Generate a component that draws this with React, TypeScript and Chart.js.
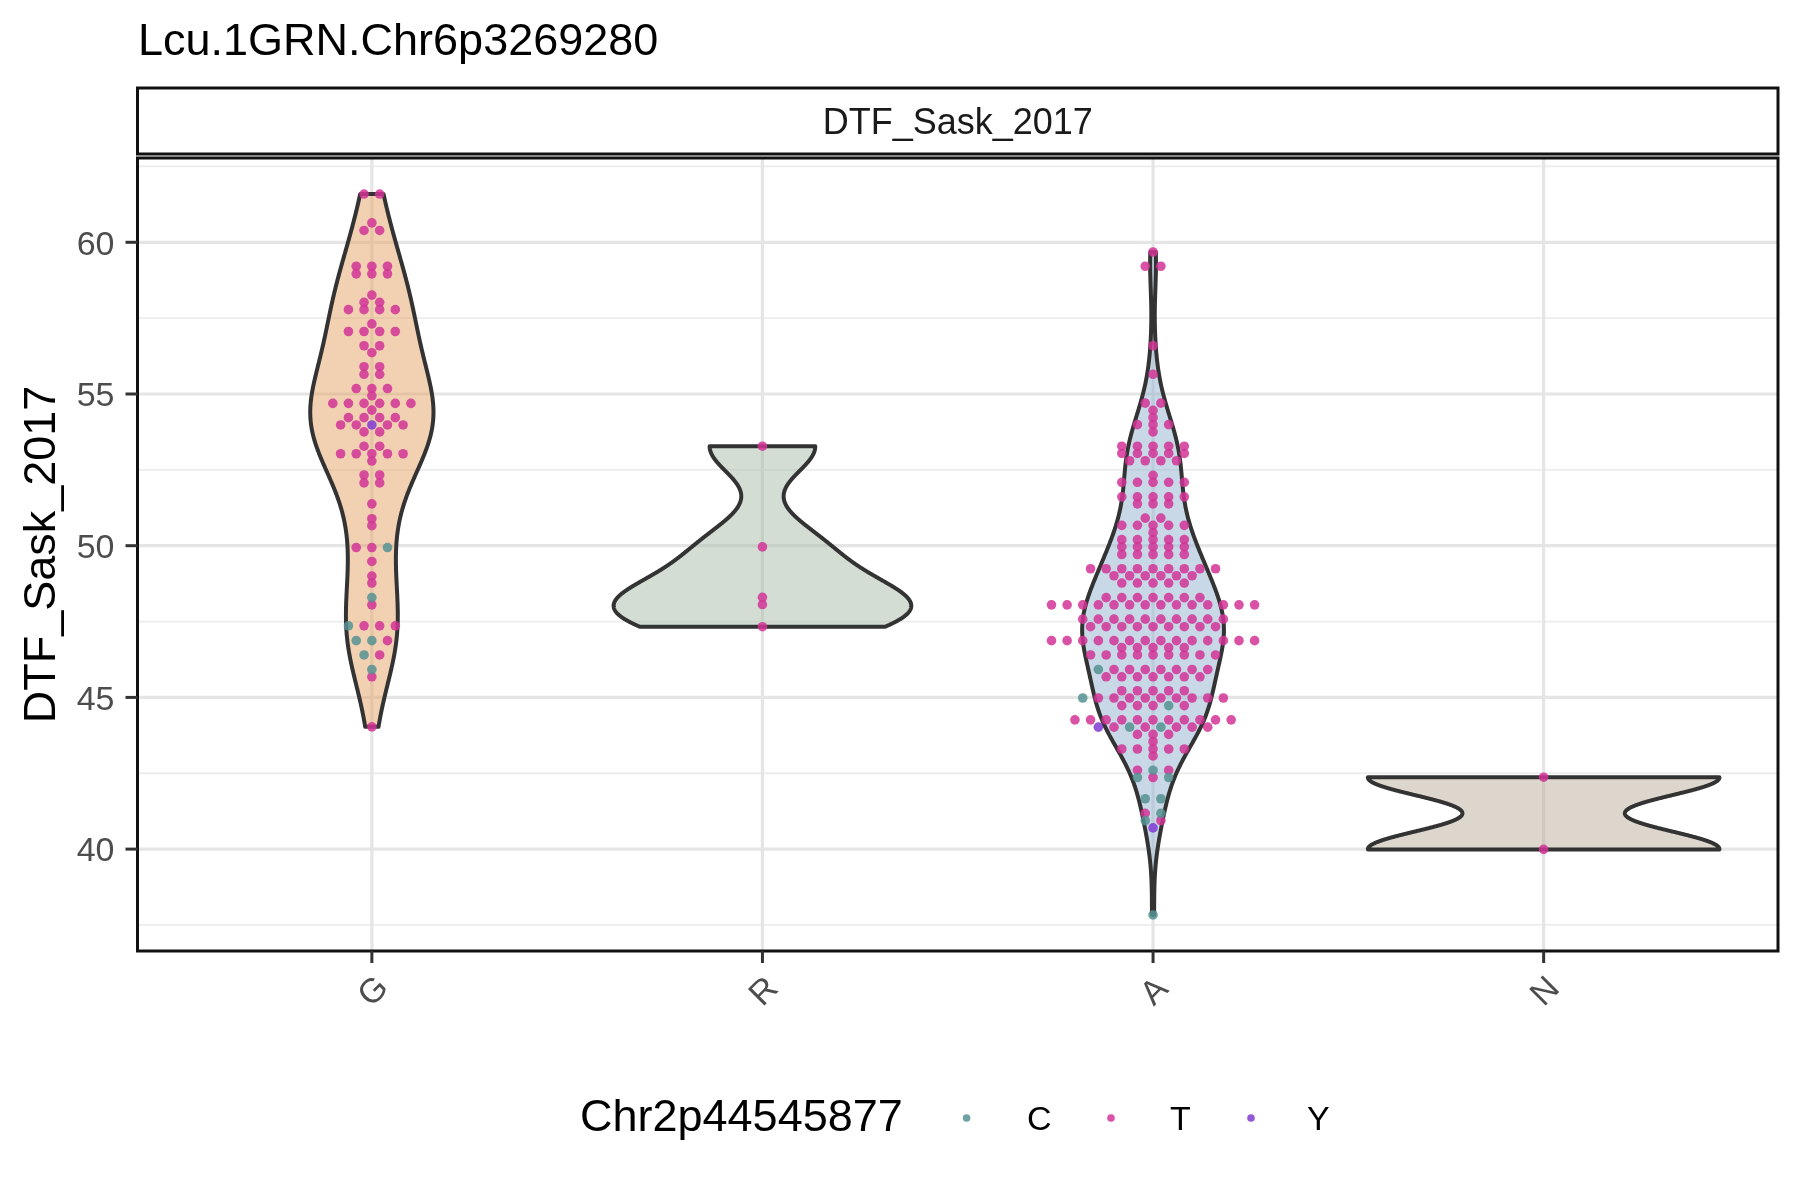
import { useEffect, useRef } from "react";
import { Chart, registerables } from "chart.js";

Chart.register(...registerables);

const FONT = '"Liberation Sans", Arial, "DejaVu Sans", sans-serif';

const TITLE = "Lcu.1GRN.Chr6p3269280";
const FACET = "DTF_Sask_2017";
const Y_TITLE = "DTF_Sask_2017";
const LEGEND_TITLE = "Chr2p44545877";

const CATEGORIES = ["G", "R", "A", "N"];
const GENOTYPES = ["C", "T", "Y"];
const Y_TICKS = [40, 45, 50, 55, 60];

// each level is one DTF value, the string says which genotype each dot at that value has
const G_LEVELS = [61.59, 60.64, 60.39, 59.21, 58.96, 58.26, 58.02, 57.78, 57.31, 57.06, 56.59, 56.36, 55.9, 55.65, 55.18, 54.94, 54.69, 54.47, 54.22, 53.98, 53.75, 53.28, 53.03, 52.79, 52.33, 52.07, 51.38, 50.89, 50.66, 49.94, 49.48, 49.0, 48.77, 48.29, 48.05, 47.36, 46.87, 46.4, 45.92, 45.68, 44.03];
const G_GENO = ["TT", "T", "TT", "TTT", "TTT", "T", "TT", "TTTT", "T", "TTTT", "TT", "T", "TT", "TT", "TTT", "T", "TTTTTT", "T", "TTTT", "TTYTT", "TT", "TT", "TTTTT", "T", "TT", "TT", "T", "T", "T", "TTC", "T", "T", "T", "C", "T", "CTTT", "CCT", "CT", "C", "T", "T"];

const R_LEVELS = [53.28, 49.96, 48.3, 48.06, 47.33];
const R_GENO = ["T", "T", "T", "T", "T"];

const A_LEVELS = [59.68, 59.21, 56.59, 55.65, 54.7, 54.46, 54.22, 53.99, 53.75, 53.28, 53.04, 52.8, 52.32, 52.09, 51.61, 51.38, 50.91, 50.67, 50.43, 50.2, 49.96, 49.71, 49.24, 49.01, 48.77, 48.29, 48.05, 47.58, 47.33, 46.87, 46.64, 46.4, 45.92, 45.68, 45.22, 44.98, 44.73, 44.26, 44.02, 43.78, 43.54, 43.3, 43.07, 42.6, 42.36, 41.66, 41.18, 40.94, 40.7, 37.83];
const A_GENO = ["T", "TT", "T", "T", "TT", "T", "T", "TTT", "T", "TTTTT", "TTTTT", "TTTT", "T", "TTTTT", "TTTTT", "TTT", "TT", "TTTTT", "T", "TTTTT", "TTTTT", "TTTTT", "T".repeat(9), "T".repeat(6), "T".repeat(5), "T".repeat(7), "T".repeat(14), "T".repeat(10), "T".repeat(9), "T".repeat(14), "T".repeat(5), "T".repeat(9), "CTTTTTTT", "T".repeat(7), "T".repeat(5), "CTTTTTTTTT", "TTTCT", "T".repeat(11), "YTCTCTTT", "TTT", "T", "TTTTT", "T", "TCT", "CTC", "CC", "TC", "CT", "Y", "C"];

const N_LEVELS = [42.37, 39.99];
const N_GENO = ["T", "T"];

const GROUPS = [
  { levels: G_LEVELS, geno: G_GENO },
  { levels: R_LEVELS, geno: R_GENO },
  { levels: A_LEVELS, geno: A_GENO },
  { levels: N_LEVELS, geno: N_GENO },
];

const GENO_COLORS: Record<string, string> = {
  C: "rgba(86,146,146,0.85)",
  T: "rgba(210,52,150,0.85)",
  Y: "rgba(128,58,212,0.85)",
};
const VIOLIN_FILLS = ["rgba(229,163,103,0.5)", "rgba(167,187,169,0.5)", "rgba(145,177,205,0.5)", "rgba(187,173,153,0.5)"];

const DOT_STEP = 0.04; // horizontal spacing between dots of one row, in category units
const VIOLIN_WIDTH = 0.9;

function groupValues(g: { levels: number[]; geno: string[] }) {
  const out: number[] = [];
  g.levels.forEach((v, i) => {
    for (let k = 0; k < g.geno[i].length; k++) out.push(v);
  });
  return out;
}

function quantile(sorted: number[], p: number) {
  const h = (sorted.length - 1) * p;
  const lo = Math.floor(h);
  const hi = Math.ceil(h);
  return sorted[lo] + (h - lo) * (sorted[hi] - sorted[lo]);
}

// gaussian kde with R's bw.nrd0, trimmed to the data range
function density(values: number[]) {
  const n = values.length;
  const sorted = [...values].sort((a, b) => a - b);
  const mean = values.reduce((s, v) => s + v, 0) / n;
  const sd = Math.sqrt(values.reduce((s, v) => s + (v - mean) ** 2, 0) / (n - 1));
  const iqr = quantile(sorted, 0.75) - quantile(sorted, 0.25);
  let lo = Math.min(sd, iqr / 1.34);
  if (!lo) lo = sd || Math.abs(sorted[0]) || 1;
  const bw = 0.9 * lo * Math.pow(n, -0.2);
  const min = sorted[0];
  const max = sorted[n - 1];
  const ys: number[] = [];
  const ds: number[] = [];
  for (let i = 0; i < 512; i++) {
    const y = min + ((max - min) * i) / 511;
    let s = 0;
    for (const v of values) s += Math.exp(-0.5 * ((y - v) / bw) ** 2);
    ys.push(y);
    ds.push(s / (n * bw * Math.sqrt(2 * Math.PI)));
  }
  return { ys, ds };
}

const ALL_VALUES = GROUPS.flatMap(groupValues);
const DATA_MIN = Math.min(...ALL_VALUES);
const DATA_MAX = Math.max(...ALL_VALUES);
const Y_MIN = DATA_MIN - 0.05 * (DATA_MAX - DATA_MIN);
const Y_MAX = DATA_MAX + 0.05 * (DATA_MAX - DATA_MIN);

function buildDatasets() {
  const pts: Record<string, { x: number; y: number }[]> = { C: [], T: [], Y: [] };
  GROUPS.forEach((g, ci) => {
    g.levels.forEach((v, i) => {
      const row = g.geno[i];
      const m = row.length;
      for (let j = 0; j < m; j++) {
        pts[row[j]].push({ x: ci + (j - (m - 1) / 2) * DOT_STEP, y: v });
      }
    });
  });
  return GENOTYPES.map((k) => ({
    label: k,
    data: pts[k],
    backgroundColor: GENO_COLORS[k],
    borderWidth: 0,
    pointRadius: 4.8,
    pointHoverRadius: 4.8,
  }));
}

const panelPlugin = {
  id: "ggpanel",
  beforeDraw(chart: any) {
    const ctx = chart.ctx;
    ctx.save();
    ctx.fillStyle = "#ffffff";
    ctx.fillRect(0, 0, chart.width, chart.height);
    ctx.restore();
  },
  beforeDatasetsDraw(chart: any) {
    const { ctx, chartArea: a } = chart;
    const xs = chart.scales.x;
    const ys = chart.scales.y;
    ctx.save();
    ctx.beginPath();
    ctx.rect(a.left, a.top, a.right - a.left, a.bottom - a.top);
    ctx.clip();

    // minor grid
    const step = Y_TICKS[1] - Y_TICKS[0];
    const minor = Y_TICKS.map((t) => t - step / 2).concat([Y_TICKS[Y_TICKS.length - 1] + step / 2]);
    ctx.strokeStyle = "#ececec";
    ctx.lineWidth = 1.8;
    minor.forEach((v) => {
      if (v < Y_MIN || v > Y_MAX) return;
      const y = ys.getPixelForValue(v);
      ctx.beginPath();
      ctx.moveTo(a.left, y);
      ctx.lineTo(a.right, y);
      ctx.stroke();
    });
    // major grid
    ctx.strokeStyle = "#e5e5e5";
    ctx.lineWidth = 3.2;
    Y_TICKS.forEach((v) => {
      const y = ys.getPixelForValue(v);
      ctx.beginPath();
      ctx.moveTo(a.left, y);
      ctx.lineTo(a.right, y);
      ctx.stroke();
    });
    CATEGORIES.forEach((_, i) => {
      const x = xs.getPixelForValue(i);
      ctx.beginPath();
      ctx.moveTo(x, a.top);
      ctx.lineTo(x, a.bottom);
      ctx.stroke();
    });

    // violins, area-scaled like ggplot
    const dens = GROUPS.map((g) => density(groupValues(g)));
    const maxD = Math.max(...dens.map((d) => Math.max(...d.ds)));
    dens.forEach((d, ci) => {
      ctx.beginPath();
      for (let i = 0; i < d.ys.length; i++) {
        const w = ((VIOLIN_WIDTH / 2) * d.ds[i]) / maxD;
        const px = xs.getPixelForValue(ci + w);
        const py = ys.getPixelForValue(d.ys[i]);
        if (i === 0) ctx.moveTo(px, py);
        else ctx.lineTo(px, py);
      }
      for (let i = d.ys.length - 1; i >= 0; i--) {
        const w = ((VIOLIN_WIDTH / 2) * d.ds[i]) / maxD;
        ctx.lineTo(xs.getPixelForValue(ci - w), ys.getPixelForValue(d.ys[i]));
      }
      ctx.closePath();
      ctx.fillStyle = VIOLIN_FILLS[ci];
      ctx.fill();
      ctx.strokeStyle = "#333333";
      ctx.lineWidth = 4;
      ctx.lineJoin = "round";
      ctx.stroke();
    });
    ctx.restore();
  },
  afterDatasetsDraw(chart: any) {
    const { ctx, chartArea: a } = chart;
    const xs = chart.scales.x;
    const ys = chart.scales.y;
    ctx.save();

    // panel border
    ctx.strokeStyle = "#111111";
    ctx.lineWidth = 3;
    ctx.strokeRect(a.left, a.top, a.right - a.left, a.bottom - a.top);

    // strip
    const stripTop = 88;
    const stripBottom = 154;
    ctx.fillStyle = "#ffffff";
    ctx.fillRect(a.left, stripTop, a.right - a.left, stripBottom - stripTop);
    ctx.strokeRect(a.left, stripTop, a.right - a.left, stripBottom - stripTop);
    ctx.fillStyle = "#1a1a1a";
    ctx.font = `36px ${FONT}`;
    ctx.textAlign = "center";
    ctx.textBaseline = "alphabetic";
    ctx.fillText(FACET, (a.left + a.right) / 2, (stripTop + stripBottom) / 2 + 13);

    // title
    ctx.fillStyle = "#000000";
    ctx.font = `45px ${FONT}`;
    ctx.textAlign = "left";
    ctx.fillText(TITLE, 138, 55);

    // ticks
    ctx.strokeStyle = "#333333";
    ctx.lineWidth = 3;
    ctx.fillStyle = "#4d4d4d";
    ctx.font = `34px ${FONT}`;
    ctx.textAlign = "right";
    Y_TICKS.forEach((v) => {
      const y = ys.getPixelForValue(v);
      ctx.beginPath();
      ctx.moveTo(a.left - 12, y);
      ctx.lineTo(a.left, y);
      ctx.stroke();
      ctx.fillText(String(v), a.left - 23, y + 12.3);
    });
    CATEGORIES.forEach((c, i) => {
      const x = xs.getPixelForValue(i);
      ctx.beginPath();
      ctx.moveTo(x, a.bottom);
      ctx.lineTo(x, a.bottom + 12);
      ctx.stroke();
      ctx.save();
      ctx.translate(x, a.bottom + 39);
      ctx.rotate(-Math.PI / 4);
      ctx.textAlign = "center";
      ctx.fillText(c, 0, 12.3);
      ctx.restore();
    });

    // y axis title
    ctx.save();
    ctx.fillStyle = "#000000";
    ctx.font = `45px ${FONT}`;
    ctx.translate(55, (a.top + a.bottom) / 2);
    ctx.rotate(-Math.PI / 2);
    ctx.textAlign = "center";
    ctx.fillText(Y_TITLE, 0, 0);
    ctx.restore();

    // legend
    ctx.fillStyle = "#000000";
    ctx.font = `45px ${FONT}`;
    ctx.textAlign = "left";
    ctx.fillText(LEGEND_TITLE, 580, 1131);
    const keyX = [966.6, 1111, 1251];
    const labelX = [1027, 1170, 1307];
    GENOTYPES.forEach((g, i) => {
      ctx.fillStyle = GENO_COLORS[g];
      ctx.beginPath();
      ctx.arc(keyX[i], 1118, 3.8, 0, Math.PI * 2);
      ctx.fill();
      ctx.fillStyle = "#000000";
      ctx.font = `34px ${FONT}`;
      ctx.fillText(g, labelX[i], 1130);
    });
    ctx.restore();
  },
};

export default function App() {
  const canvasRef = useRef<HTMLCanvasElement>(null);
  const chartRef = useRef<Chart | null>(null);

  useEffect(() => {
    document.body.style.margin = "0";
    document.body.style.overflow = "hidden";
    if (!canvasRef.current) return;
    chartRef.current?.destroy();
    chartRef.current = new Chart(canvasRef.current, {
      type: "scatter",
      data: { datasets: buildDatasets() as any },
      options: {
        animation: false,
        responsive: false,
        events: [],
        layout: { padding: { left: 137.5, top: 158, right: 22, bottom: 249 } },
        plugins: { legend: { display: false }, tooltip: { enabled: false }, title: { display: false } },
        scales: {
          x: { type: "linear", display: false, min: -0.6, max: 3.6 },
          y: { type: "linear", display: false, min: Y_MIN, max: Y_MAX },
        },
      },
      plugins: [panelPlugin],
    });
    return () => chartRef.current?.destroy();
  }, []);

  return (
    <div style={{ width: 1800, height: 1200 }}>
      <canvas ref={canvasRef} width={1800} height={1200} style={{ display: "block" }} />
    </div>
  );
}
